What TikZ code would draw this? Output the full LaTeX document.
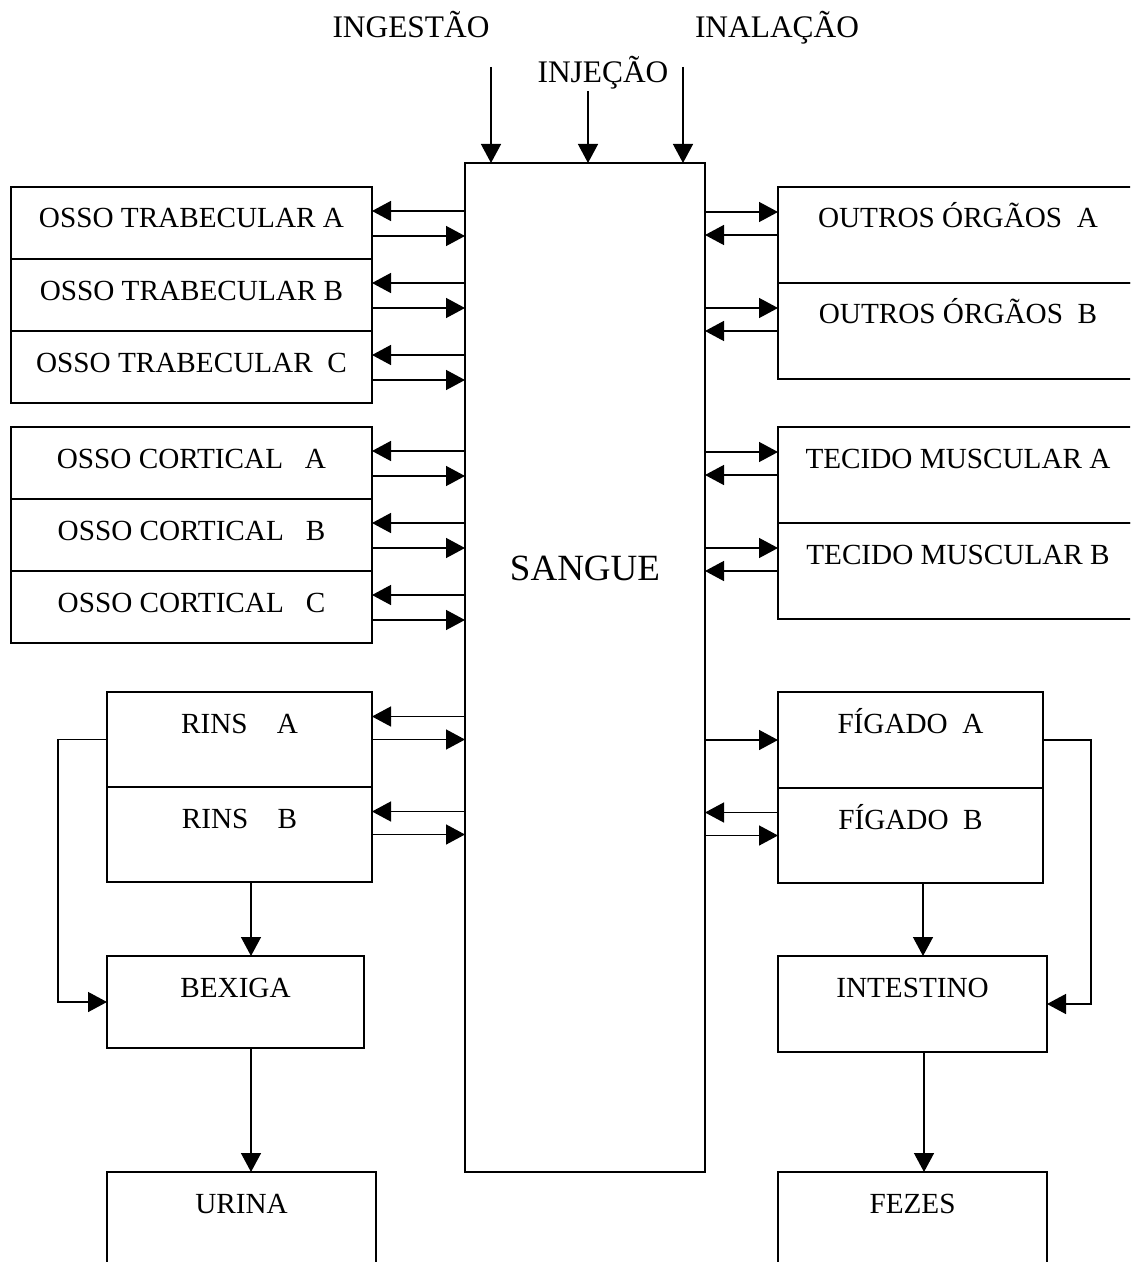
\documentclass[tikz,border=0pt]{standalone}
\usepackage{fontspec}
\setmainfont{Liberation Serif}
\usetikzlibrary{arrows.meta}

\begin{document}
\begin{tikzpicture}[
    x=0.5pt, y=-0.5pt,
    box/.style={draw, line width=0.9pt, inner sep=0pt, outer sep=0pt, anchor=north west,
                text height=20.5pt, font=\fontsize{14.6}{17}\selectfont},
    bone/.style={box, minimum width=180.5pt, text depth=15.5pt},
    organ/.style={box, minimum width=#1, text depth=27.5pt},
    entry/.style={anchor=base, font=\fontsize{15.7}{18}\selectfont},
    arrow/.style={-{Triangle[length=9.5pt,width=10pt]}, line width=0.7pt},
]
\useasboundingbox (0,0) rectangle (1130,1262);
\clip (0,0) rectangle (1130,1262);

% Blood compartment
\node[box, minimum width=120pt, text height=208.5pt, text depth=296pt,
      font=\fontsize{18.5}{22}\selectfont] (sangue) at (465,163) {SANGUE};

% Intake routes
\node[entry] (ingestao) at (411,38) {INGESTÃO};
\node[entry] (injecao) at (603,83) {INJEÇÃO};
\node[entry] (inalacao) at (777,38) {INALAÇÃO};
\coordinate (ingTop) at (491,67);
\coordinate (injTop) at (588,91);
\coordinate (inaTop) at (683,67);
\draw[arrow] (ingTop) -- (ingTop |- sangue.north);
\draw[arrow] (injTop) -- (injTop |- sangue.north);
\draw[arrow] (inaTop) -- (inaTop |- sangue.north);

% Trabecular bone
\node[bone] (trA) at (11,187) {OSSO TRABECULAR A};
\node[bone] (trB) at (trA.south west) {OSSO TRABECULAR B};
\node[bone] (trC) at (trB.south west) {OSSO TRABECULAR~~C};

% Cortical bone
\node[bone] (coA) at (11,427) {OSSO CORTICAL~~~A};
\node[bone] (coB) at (coA.south west) {OSSO CORTICAL~~~B};
\node[bone] (coC) at (coB.south west) {OSSO CORTICAL~~~C};

% Kidneys, bladder, urine
\node[organ=132.5pt, text depth=27pt] (rinsA) at (107,692) {RINS~~~~A};
\node[organ=132.5pt, text depth=27pt] (rinsB) at (rinsA.south west) {RINS~~~~B};
\node[organ=128.5pt, text depth=25.5pt] (bexiga) at (107,956) {BEXIGA};
\node[organ=134.5pt, text depth=60pt] (urina) at (107,1172) {URINA};

% Other organs
\node[organ=180pt] (outA) at (778,187) {OUTROS ÓRGÃOS~~A};
\node[organ=180pt] (outB) at (outA.south west) {OUTROS ÓRGÃOS~~B};

% Muscle tissue
\node[organ=180pt] (tecA) at (778,427) {TECIDO MUSCULAR A};
\node[organ=180pt] (tecB) at (tecA.south west) {TECIDO MUSCULAR B};

% Liver, intestine, faeces
\node[organ=132.5pt] (figA) at (778,692) {FÍGADO~~A};
\node[organ=132.5pt, text depth=27pt] (figB) at (figA.south west) {FÍGADO~~B};
\node[organ=134.5pt] (intestino) at (778,956) {INTESTINO};
\node[organ=134.5pt, text depth=60pt] (fezes) at (778,1172) {FEZES};

% Exchanges - left side
\draw[arrow] ([yshift=6pt]trA.east -| sangue.west) -- ([yshift=6pt]trA.east);
\draw[arrow] ([yshift=-6.5pt]trA.east) -- ([yshift=-6.5pt]trA.east -| sangue.west);
\draw[arrow] ([yshift=6pt]trB.east -| sangue.west) -- ([yshift=6pt]trB.east);
\draw[arrow] ([yshift=-6.5pt]trB.east) -- ([yshift=-6.5pt]trB.east -| sangue.west);
\draw[arrow] ([yshift=6pt]trC.east -| sangue.west) -- ([yshift=6pt]trC.east);
\draw[arrow] ([yshift=-6.5pt]trC.east) -- ([yshift=-6.5pt]trC.east -| sangue.west);
\draw[arrow] ([yshift=6pt]coA.east -| sangue.west) -- ([yshift=6pt]coA.east);
\draw[arrow] ([yshift=-6.5pt]coA.east) -- ([yshift=-6.5pt]coA.east -| sangue.west);
\draw[arrow] ([yshift=6pt]coB.east -| sangue.west) -- ([yshift=6pt]coB.east);
\draw[arrow] ([yshift=-6.5pt]coB.east) -- ([yshift=-6.5pt]coB.east -| sangue.west);
\draw[arrow] ([yshift=6pt]coC.east -| sangue.west) -- ([yshift=6pt]coC.east);
\draw[arrow] ([yshift=-6.5pt]coC.east) -- ([yshift=-6.5pt]coC.east -| sangue.west);
\draw[arrow] ([yshift=11.5pt]rinsA.east -| sangue.west) -- ([yshift=11.5pt]rinsA.east);
\draw[arrow] (rinsA.east) -- (rinsA.east -| sangue.west);
\draw[arrow] ([yshift=11.5pt]rinsB.east -| sangue.west) -- ([yshift=11.5pt]rinsB.east);
\draw[arrow] (rinsB.east) -- (rinsB.east -| sangue.west);

% Exchanges - right side
\draw[arrow] ([yshift=11.5pt]outA.west -| sangue.east) -- ([yshift=11.5pt]outA.west);
\draw[arrow] (outA.west) -- (outA.west -| sangue.east);
\draw[arrow] ([yshift=11.5pt]outB.west -| sangue.east) -- ([yshift=11.5pt]outB.west);
\draw[arrow] (outB.west) -- (outB.west -| sangue.east);
\draw[arrow] ([yshift=11.5pt]tecA.west -| sangue.east) -- ([yshift=11.5pt]tecA.west);
\draw[arrow] (tecA.west) -- (tecA.west -| sangue.east);
\draw[arrow] ([yshift=11.5pt]tecB.west -| sangue.east) -- ([yshift=11.5pt]tecB.west);
\draw[arrow] (tecB.west) -- (tecB.west -| sangue.east);
\draw[arrow] (figA.west -| sangue.east) -- (figA.west);
\draw[arrow] ([yshift=11.5pt]figB.west) -- ([yshift=11.5pt]figB.west -| sangue.east);
\draw[arrow] (figB.west -| sangue.east) -- (figB.west);

% Excretion paths
\draw[arrow] ([xshift=5.75pt]rinsB.south) -- ([xshift=5.75pt]rinsB.south |- bexiga.north);
\draw[arrow] (rinsA.west) -- ++(-49,0) |- (bexiga.west);
\draw[arrow] ([xshift=7.75pt]bexiga.south) -- ([xshift=7.75pt]bexiga.south |- urina.north);
\draw[arrow] ([xshift=6.25pt]figB.south) -- ([xshift=6.25pt]figB.south |- intestino.north);
\draw[arrow] (figA.east) -- ++(48,0) |- (intestino.east);
\draw[arrow] ([xshift=5.75pt]intestino.south) -- ([xshift=5.75pt]intestino.south |- fezes.north);

\end{tikzpicture}
\end{document}
